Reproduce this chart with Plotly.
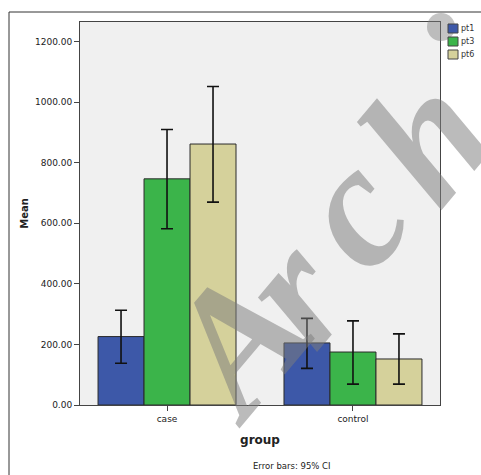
import plotly.graph_objects as go

# ---- data ----
groups = ["case", "control"]
series = ["pt1", "pt3", "pt6"]
colors = ["#3D58A8", "#3BB44A", "#D5D19B"]
means = {
    "pt1": [226, 205],
    "pt3": [747, 175],
    "pt6": [862, 152],
}
ci_upper = {
    "pt1": [313, 286],
    "pt3": [910, 278],
    "pt6": [1052, 235],
}
ci_lower = {
    "pt1": [138, 121],
    "pt3": [582, 69],
    "pt6": [670, 69],
}
y_ticks = [0, 200, 400, 600, 800, 1000, 1200]

# watermark letters (decorative, pixel centres)
wm_letters = ["A", "r", "c", "h"]
wm_centres = [(234, 343), (292, 290), (350, 210), (425, 138)]

FONT = "DejaVu Sans"
TXT = "#222222"

fig = go.Figure()
for name, col in zip(series, colors):
    m = means[name]
    up = [u - v for u, v in zip(ci_upper[name], m)]
    lo = [v - l for v, l in zip(m, ci_lower[name])]
    fig.add_trace(go.Bar(
        name=name, x=groups, y=m,
        marker=dict(color=col, line=dict(color="#2a2a2a", width=1)),
        error_y=dict(type="data", symmetric=False, array=up, arrayminus=lo,
                     color="#111111", thickness=1.6, width=6),
        showlegend=False,
    ))

W, H = 481, 475
L, R, T, B = 80, 41, 22, 70
pw, ph = W - L - R, H - T - B

def px(xp):
    return (xp - L) / pw

def py(yp):
    return (H - B - yp) / ph

shapes = []
annotations = []

# watermark
for ch, (cx, cy) in zip(wm_letters, wm_centres):
    annotations.append(dict(text="<b><i>%s</i></b>" % ch, xref="paper", yref="paper",
                            x=px(cx), y=py(cy), xanchor="center", yanchor="middle",
                            textangle=-50, showarrow=False,
                            font=dict(family="Liberation Serif", size=175,
                                      color="rgba(125,125,125,0.52)")))
shapes.append(dict(type="circle", xref="paper", yref="paper",
                   x0=px(427), x1=px(455), y0=py(41), y1=py(13),
                   fillcolor="rgba(125,125,125,0.45)", line=dict(width=0), layer="above"))

# manual legend (SPSS style, outside top-right of plot)
for i, (name, col) in enumerate(zip(series, colors)):
    y0 = 24 + i * 13
    shapes.append(dict(type="rect", xref="paper", yref="paper",
                       x0=px(448), x1=px(458), y0=py(y0 + 9), y1=py(y0),
                       fillcolor=col, line=dict(color="#444444", width=1)))
    annotations.append(dict(text=name, xref="paper", yref="paper",
                            x=px(459), y=py(y0 + 4.5), xanchor="left", yanchor="middle",
                            showarrow=False, font=dict(family=FONT, size=8, color="#333333")))

# outer frame lines (left and top)
shapes.append(dict(type="line", xref="paper", yref="paper",
                   x0=px(9), x1=px(9), y0=py(12), y1=py(480),
                   line=dict(color="#333333", width=1)))
shapes.append(dict(type="line", xref="paper", yref="paper",
                   x0=px(9), x1=px(490), y0=py(12), y1=py(12),
                   line=dict(color="#333333", width=1)))

annotations.append(dict(text="Error bars: 95% CI", xref="paper", yref="paper",
                        x=px(291.5), y=py(466), xanchor="center", yanchor="middle",
                        showarrow=False, font=dict(family=FONT, size=8.5, color=TXT)))

fig.update_layout(
    width=W, height=H,
    margin=dict(l=L, r=R, t=T, b=B),
    paper_bgcolor="white",
    plot_bgcolor="#F0F0F0",
    barmode="group",
    bargap=0.258,
    bargroupgap=0,
    font=dict(family=FONT, size=9, color=TXT),
    shapes=shapes,
    annotations=annotations,
)
fig.update_xaxes(
    type="category", range=[-0.468, 1.468],
    showline=True, mirror=True, linecolor="#444444", linewidth=1,
    ticks="outside", ticklen=5, tickcolor="#444444",
    tickfont=dict(family=FONT, size=9, color=TXT),
    title=dict(text="<b>group</b>", font=dict(family=FONT, size=12, color=TXT), standoff=12),
    showgrid=False,
)
fig.update_yaxes(
    range=[0, 1265], tickvals=y_ticks, tickformat=".2f",
    showline=True, mirror=True, linecolor="#444444", linewidth=1,
    ticks="outside", ticklen=5, tickcolor="#444444",
    tickfont=dict(family=FONT, size=9, color=TXT),
    title=dict(text="<b>Mean</b>", font=dict(family=FONT, size=10, color=TXT), standoff=4),
    showgrid=False, zeroline=False,
)

fig.write_html("out.html")
